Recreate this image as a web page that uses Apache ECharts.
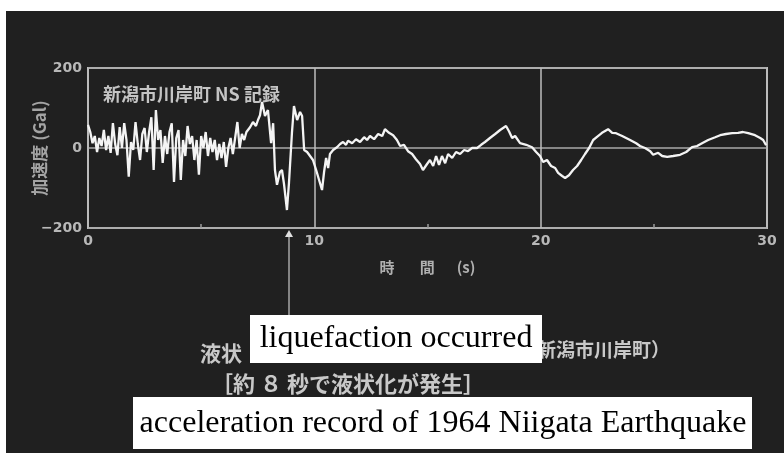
<!DOCTYPE html>
<html>
<head>
<meta charset="utf-8">
<script src="https://cdn.jsdelivr.net/npm/echarts/dist/echarts.min.js"></script>
<style>
html,body{margin:0;padding:0;background:#ffffff;}
#c{width:784px;height:453px;}
</style>
</head>
<body>
<div id="c"></div>
<script>
// ---- data ----
const timesSec = [
  0.0,0.1,0.2,0.3,0.4,0.5,0.6,0.7,0.8,0.9,
  1.0,1.1,1.2,1.3,1.4,1.5,1.6,1.7,1.8,1.9,
  2.0,2.1,2.2,2.3,2.4,2.5,2.6,2.7,2.8,2.9,
  3.0,3.1,3.2,3.3,3.4,3.5,3.6,3.7,3.8,3.9,
  4.0,4.1,4.2,4.3,4.4,4.5,4.6,4.7,4.8,4.9,
  5.0,5.1,5.2,5.3,5.4,5.5,5.6,5.7,5.8,5.9,
  6.0,6.1,6.2,6.3,6.4,6.5,6.6,6.7,6.8,6.9,
  7.0,7.16,7.29,7.42,7.51,7.60,7.69,7.82,7.95,8.09,
  8.18,8.26,8.35,8.48,8.57,8.66,8.79,8.88,9.01,9.10,
  9.24,9.37,9.46,9.55,9.68,9.81,9.94,10.08,10.21,10.34,
  10.43,10.52,10.61,10.69,10.83,11.0,11.14,11.27,11.4,11.49,
  11.67,11.84,12.02,12.2,12.33,12.46,12.64,12.82,13.0,13.12,
  13.3,13.48,13.65,13.79,13.96,14.14,14.32,14.49,14.67,14.8,
  14.98,15.11,15.25,15.38,15.51,15.64,15.78,15.91,16.09,16.26,
  16.44,16.62,16.79,16.97,17.19,17.37,17.54,17.76,17.99,18.21,
  18.47,18.6,18.74,18.87,19.09,19.36,19.62,19.8,19.97,20.11,
  20.28,20.46,20.64,20.77,20.95,21.08,21.25,21.43,21.61,21.79,
  21.96,22.14,22.32,22.49,22.71,22.98,23.16,23.33,23.6,23.95,
  24.22,24.39,24.61,24.84,24.97,25.19,25.37,25.59,25.85,26.16,
  26.43,26.69,26.91,27.13,27.4,27.71,27.93,28.19,28.46,28.72,
  28.94,29.17,29.47,29.7,29.83,29.96
];
const accelGal = [
  58,40,12,30,-10,25,5,45,-5,30,
  -12,62,10,-18,52,0,62,20,-72,15,
  -5,65,10,-30,35,50,-10,40,77,-55,
  95,20,45,-37,30,-15,40,62,-85,25,
  45,-80,20,-20,55,10,30,-30,20,-67,
  30,0,40,-20,25,-10,20,-30,10,-25,
  15,-47,0,25,-15,25,65,0,35,20,
  40,52,65,55,70,82,115,80,95,12,
  62,-55,-92,-60,-55,-90,-155,-87,37,105,
  70,90,80,-5,-10,-20,-30,-55,-80,-105,
  -60,-25,-50,-15,-5,2,10,15,8,18,
  12,22,15,27,20,30,22,35,30,47,
  38,32,20,5,8,-8,-15,-28,-40,-55,
  -40,-30,-45,-20,-42,-20,-38,-15,-25,-10,
  -15,-5,-8,0,0,8,15,25,35,45,
  55,42,25,30,12,8,2,-10,-20,-35,
  -30,-45,-50,-62,-70,-75,-68,-55,-45,-30,
  -15,0,20,28,38,47,38,37,30,20,
  12,5,0,-8,-17,-12,-20,-22,-20,-17,
  -10,2,5,12,20,27,32,35,37,38,
  40,37,32,25,20,7
];
const xTickValues = [0, 10, 20, 30];
const yTickValues = [-200, 0, 200];
const liquefactionTime = 8.9;

const titleText = '新潟市川岸町 NS 記録';
const xName = '時\u3000   間\u3000  (s)';
const yName = '加速度 (Gal)';
const captionLeft = '液状';
const captionRight = '新潟市川岸町）';
const captionLine2 = '［約 ８ 秒で液状化が発生］';
const noteText = 'liquefaction occurred';
const bottomText = 'acceleration record of 1964 Niigata Earthquake';

const chart = echarts.init(document.getElementById('c'));
const labelColor = '#b8b8b8';
const lineGray = '#bdbdbd';

chart.setOption({
  backgroundColor: '#202020',
  animation: false,
  title: {
    text: titleText, left: 98, top: 80,
    textStyle: {color: '#c4c4c4', fontSize: 18, fontWeight: 'bold', fontFamily: '"Noto Sans CJK JP"'}
  },
  grid: {left: 88, top: 68, right: 17, bottom: 225, show: true,
         borderColor: lineGray, borderWidth: 2, backgroundColor: 'transparent'},
  xAxis: {
    type: 'value', min: xTickValues[0], max: xTickValues[xTickValues.length-1], interval: 10,
    axisLine: {show: false, onZero: false},
    axisTick: {show: false, inside: true},
    minorTick: {show: true, splitNumber: 2, length: 4, lineStyle: {color: '#9a9a9a', width: 1.5}},
    splitLine: {show: true, lineStyle: {color: lineGray, width: 1.5}},
    axisLabel: {color: labelColor, fontSize: 14, fontWeight: 'bold', margin: 6, fontFamily: 'DejaVu Sans'},
    name: xName, nameLocation: 'middle', nameGap: 32,
    nameTextStyle: {color: '#b0b0b0', fontSize: 15, fontWeight: 'bold', fontFamily: '"Noto Sans CJK JP"'}
  },
  yAxis: {
    type: 'value', min: yTickValues[0], max: yTickValues[yTickValues.length-1], interval: 200,
    axisLine: {show: false, onZero: false},
    axisTick: {show: false},
    splitLine: {show: true, lineStyle: {color: '#a8a8a8', width: 1.5}},
    axisLabel: {color: labelColor, fontSize: 14, fontWeight: 'bold', margin: 6, fontFamily: 'DejaVu Sans',
      formatter: v => v < 0 ? '\u2212' + Math.abs(v) : String(v)},
    name: yName, nameLocation: 'middle', nameGap: 40, nameMoveOverlap: false,
    nameTextStyle: {color: '#a4a4a4', fontSize: 17, fontWeight: 'bold', fontFamily: '"Noto Sans CJK JP"'}
  },
  series: [{
    type: 'line',
    data: timesSec.map((t, i) => [t, accelGal[i]]),
    showSymbol: false,
    lineStyle: {color: '#f4f4f4', width: 2.3},
    z: 5
  }]
});

const tip = chart.convertToPixel({gridIndex: 0}, [liquefactionTime, yTickValues[0]]);
const ax = Math.round(tip[0]);
const ay = tip[1];

chart.setOption({
  graphic: [
    {type: 'rect', shape: {x: 0, y: 0, width: 784, height: 11}, style: {fill: '#ffffff'}, z: 100},
    {type: 'rect', shape: {x: 0, y: 0, width: 6, height: 453}, style: {fill: '#ffffff'}, z: 100},
    {type: 'line', shape: {x1: ax, y1: ay + 8, x2: ax, y2: 316}, style: {stroke: '#c8c8c8', lineWidth: 1.2}, z: 50},
    {type: 'polygon', shape: {points: [[ax - 4, ay + 9], [ax + 4, ay + 9], [ax, ay + 2]]}, style: {fill: '#e0e0e0'}, z: 50},
    {type: 'text', x: 200, y: 353, style: {text: captionLeft, fill: '#c8c8c8', font: 'bold 21px "Noto Sans CJK JP"', textVerticalAlign: 'middle'}, z: 40},
    {type: 'text', x: 537, y: 350, style: {text: captionRight, fill: '#c8c8c8', font: 'bold 19px "Noto Sans CJK JP"', textVerticalAlign: 'middle'}, z: 40},
    {type: 'text', x: 211, y: 384, style: {text: captionLine2, fill: '#c8c8c8', font: 'bold 22px "Noto Sans CJK JP"', textVerticalAlign: 'middle'}, z: 40},
    {type: 'rect', shape: {x: 250, y: 315, width: 292, height: 48}, style: {fill: '#ffffff'}, z: 60},
    {type: 'text', x: 396, y: 339, style: {text: noteText, fill: '#000000', font: '32px "Liberation Serif"', textAlign: 'center', textVerticalAlign: 'middle'}, z: 61},
    {type: 'rect', shape: {x: 133, y: 397, width: 619, height: 52}, style: {fill: '#ffffff'}, z: 60},
    {type: 'text', x: 443, y: 424, style: {text: bottomText, fill: '#000000', font: '32px "Liberation Serif"', textAlign: 'center', textVerticalAlign: 'middle'}, z: 61}
  ]
});
</script>
</body>
</html>
